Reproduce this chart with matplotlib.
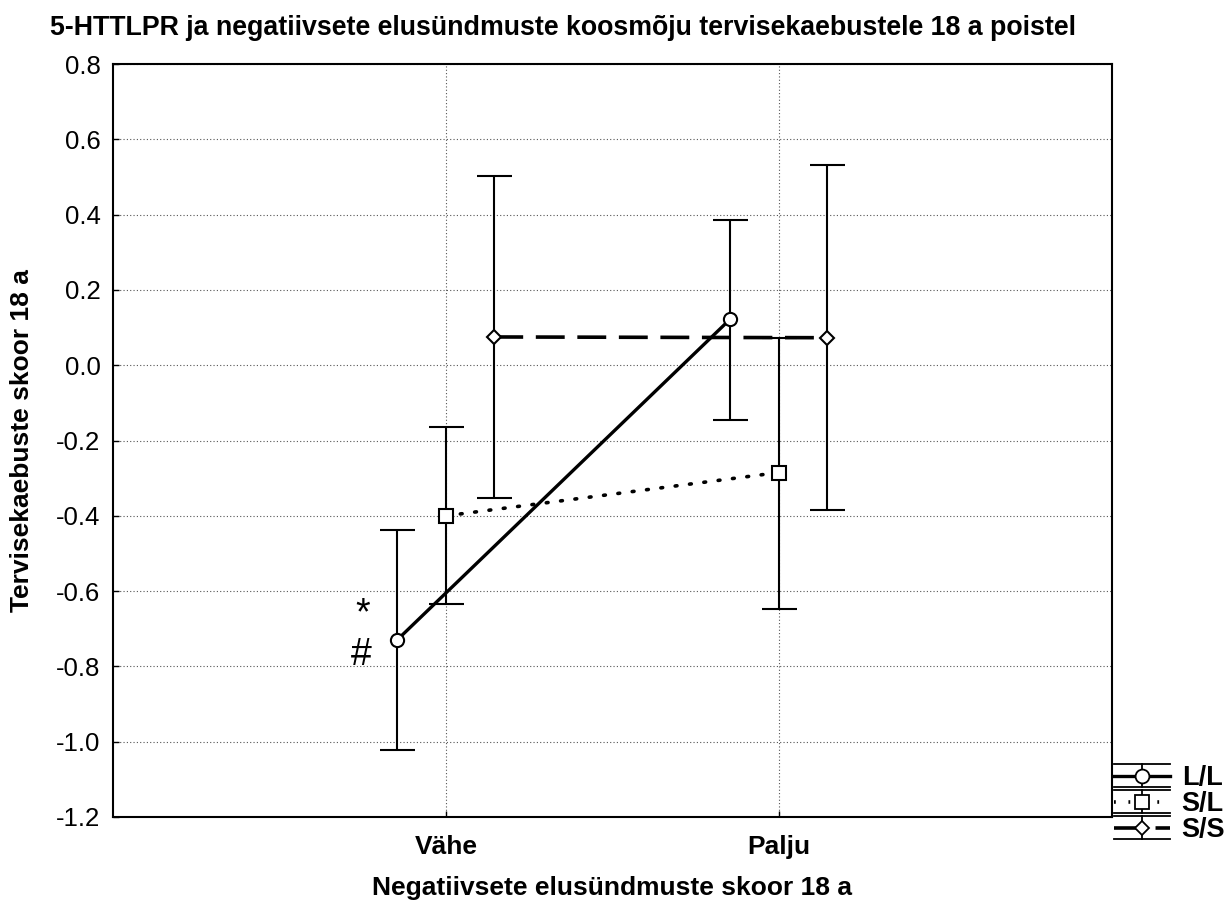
import matplotlib
matplotlib.use("Agg")
import matplotlib.pyplot as plt
from matplotlib.legend_handler import HandlerBase
from matplotlib.lines import Line2D

plt.rcParams['font.family'] = ['Liberation Sans', 'DejaVu Sans']

categories = ['Vähe', 'Palju']
groups = ['L/L', 'S/L', 'S/S']
means = {
    'L/L': [-0.73, 0.122],
    'S/L': [-0.40, -0.285],
    'S/S': [0.075, 0.073],
}
upper = {
    'L/L': [-0.437, 0.385],
    'S/L': [-0.165, 0.072],
    'S/S': [0.502, 0.533],
}
lower = {
    'L/L': [-1.022, -0.145],
    'S/L': [-0.635, -0.648],
    'S/S': [-0.352, -0.384],
}

offsets = {'L/L': -0.147, 'S/L': 0.0, 'S/S': 0.145}
styles = {
    'L/L': dict(ls='-', marker='o', ms=9.5, lw=2.4),
    'S/L': dict(ls=(0, (0.5, 3.5)), marker='s', ms=9.5, lw=2.6),
    'S/S': dict(ls=(0, (8, 3.5)), marker='D', ms=7, lw=2.6),
}

fig = plt.figure(figsize=(12.29, 9.06), dpi=100)
ax = fig.add_axes([113/1229, 1-817/906, (1112-113)/1229, (817-64)/906])

base_x = [1, 2]
for g in groups:
    xs = [b + offsets[g] for b in base_x]
    m = means[g]
    yerr = [[m[i] - lower[g][i] for i in range(2)], [upper[g][i] - m[i] for i in range(2)]]
    ax.errorbar(xs, m, yerr=yerr, fmt='none', ecolor='black', elinewidth=1.5,
                capsize=12.6, capthick=1.5, zorder=2)
    st = styles[g]
    ax.plot(xs, m, color='black', linestyle=st['ls'], lw=st['lw'],
            dash_capstyle='round' if g == 'S/L' else 'butt', zorder=3)
    ax.plot(xs, m, linestyle='none', marker=st['marker'], ms=st['ms'],
            mfc='white', mec='black', mew=1.5, zorder=4)

ax.set_xlim(0, 3)
ax.set_ylim(-1.2, 0.8)
ax.set_xticks(base_x)
ax.set_xticklabels(categories, fontsize=19, fontweight='bold')
ax.set_yticks([0.8, 0.6, 0.4, 0.2, 0.0, -0.2, -0.4, -0.6, -0.8, -1.0, -1.2])
ax.set_yticklabels(['0.8', '0.6', '0.4', '0.2', '0.0', '-0.2', '-0.4', '-0.6', '-0.8', '-1.0', '-1.2'], fontsize=18.5)
ax.tick_params(direction='in', length=4, width=1, pad=9)
ax.tick_params(axis='x', pad=13)
ax.grid(True, linestyle=(0, (1, 2)), color='#555555', linewidth=0.8)
ax.set_axisbelow(True)
for s in ax.spines.values():
    s.set_linewidth(1.5)

ax.set_xlabel('Negatiivsete elusündmuste skoor 18 a', fontsize=19, fontweight='bold', labelpad=12)
ax.set_ylabel('Tervisekaebuste skoor 18 a', fontsize=19, fontweight='bold', labelpad=16)
fig.text(50/1229, 1-28/906, '5-HTTLPR ja negatiivsete elusündmuste koosmõju tervisekaebustele 18 a poistel',
         fontsize=19.3, fontweight='bold', ha='left', va='center')

ax.text(0.75, -0.662, '*', fontsize=27, ha='center', va='center')
ax.text(0.745, -0.77, '#', fontsize=27, ha='center', va='center')


class ErrHandler(HandlerBase):
    def __init__(self, st):
        super().__init__()
        self.st = st

    def create_artists(self, legend, orig_handle, xdescent, ydescent, width, height, fontsize, trans):
        cy = height / 2 - ydescent
        x0, x1 = -xdescent, width - xdescent
        arts = []
        d = height * 0.6
        for yy in (cy + d, cy - d):
            arts.append(Line2D([x0, x1], [yy, yy], color='black', lw=1.3, transform=trans))
        arts.append(Line2D([(x0 + x1) / 2] * 2, [cy - d, cy + d], color='black', lw=1.3, transform=trans))
        st = self.st
        arts.append(Line2D([x0, x1], [cy, cy], color='black', ls=st['ls'], lw=st['lw'], transform=trans))
        arts.append(Line2D([(x0 + x1) / 2], [cy], ls='none', marker=st['marker'], ms=st['ms'] * 1.05,
                           mfc='white', mec='black', mew=1.3, transform=trans))
        return arts


handles = [Line2D([], []) for g in groups]
leg = fig.legend(handles, groups, loc='lower left', bbox_to_anchor=(1114/1229, 1-843/906),
                 frameon=False, prop=dict(size=19.5, weight='bold'), handlelength=2.05,
                 handletextpad=0.45, labelspacing=0.0, borderaxespad=0, borderpad=0,
                 handler_map={h: ErrHandler(styles[g]) for h, g in zip(handles, groups)})

fig.savefig('out.png', dpi=100)
